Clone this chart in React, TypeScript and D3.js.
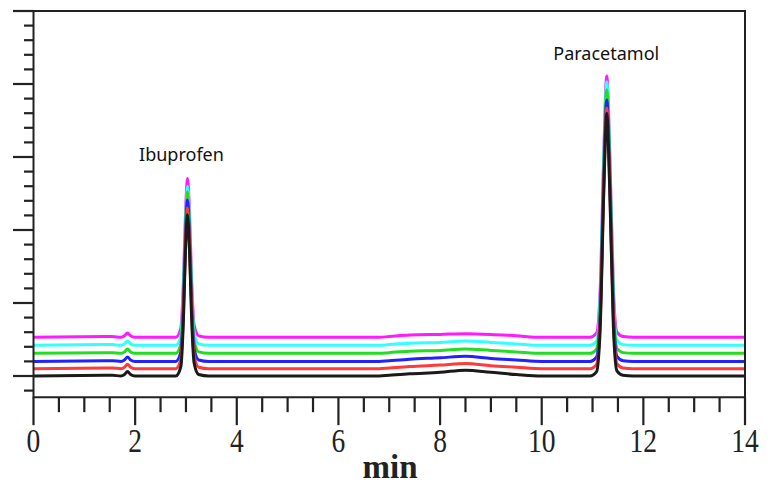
import React from "react";
import * as d3 from "d3";

const times = [0, 1.55, 1.72, 1.79, 1.85, 1.91, 2.0, 2.8, 2.9, 2.95, 2.99, 3.03, 3.07, 3.11, 3.16, 3.25, 3.45, 6.8, 7.0, 7.4, 8.0, 8.5, 9.0, 9.5, 10.0, 10.95, 11.08, 11.15, 11.22, 11.28, 11.34, 11.41, 11.48, 11.6, 11.8, 14];

const magenta = [0.53, 0.54, 0.53, 0.55, 0.59, 0.55, 0.53, 0.53, 0.66, 1.29, 2.2, 2.71, 2.23, 1.34, 0.7, 0.55, 0.53, 0.53, 0.54, 0.56, 0.57, 0.58, 0.57, 0.55, 0.53, 0.53, 0.59, 1.17, 3.01, 4.11, 3.04, 1.21, 0.6, 0.54, 0.53, 0.53];
const cyan = [0.42, 0.43, 0.42, 0.44, 0.48, 0.44, 0.42, 0.42, 0.55, 1.18, 2.09, 2.6, 2.12, 1.23, 0.59, 0.44, 0.42, 0.42, 0.43, 0.45, 0.46, 0.48, 0.46, 0.44, 0.42, 0.42, 0.48, 1.06, 2.92, 4.03, 2.95, 1.1, 0.49, 0.43, 0.42, 0.42];
const green = [0.31, 0.32, 0.31, 0.33, 0.37, 0.33, 0.31, 0.31, 0.44, 1.08, 2.01, 2.52, 2.03, 1.13, 0.49, 0.33, 0.31, 0.31, 0.32, 0.34, 0.35, 0.37, 0.35, 0.33, 0.31, 0.31, 0.37, 0.95, 2.81, 3.92, 2.84, 0.99, 0.38, 0.32, 0.31, 0.31];
const blue = [0.2, 0.21, 0.2, 0.22, 0.26, 0.22, 0.2, 0.2, 0.33, 0.97, 1.9, 2.41, 1.92, 1.02, 0.38, 0.22, 0.2, 0.2, 0.21, 0.23, 0.25, 0.27, 0.24, 0.22, 0.2, 0.2, 0.26, 0.84, 2.68, 3.78, 2.71, 0.88, 0.27, 0.21, 0.2, 0.2];
const red = [0.1, 0.11, 0.1, 0.12, 0.16, 0.12, 0.1, 0.1, 0.23, 0.86, 1.79, 2.3, 1.82, 0.91, 0.28, 0.12, 0.1, 0.1, 0.11, 0.13, 0.15, 0.17, 0.14, 0.12, 0.1, 0.1, 0.16, 0.74, 2.57, 3.67, 2.6, 0.78, 0.17, 0.11, 0.1, 0.1];
const black = [0, 0.01, 0, 0.02, 0.06, 0.02, 0, 0, 0.13, 0.77, 1.7, 2.21, 1.72, 0.82, 0.18, 0.02, 0, 0, 0.01, 0.03, 0.05, 0.08, 0.05, 0.02, 0, 0, 0.06, 0.64, 2.49, 3.6, 2.52, 0.68, 0.07, 0.01, 0, 0];

const seriesNames = ["magenta", "cyan", "green", "blue", "red", "black"];
const seriesValues = [magenta, cyan, green, blue, red, black];
const seriesColors = ["#ff1aff", "#33ffff", "#22dd22", "#2222ff", "#ff3a3a", "#1a1a1a"];

const xTickLabels = ["0", "2", "4", "6", "8", "10", "12", "14"];
const peakNames = ["Ibuprofen", "Paracetamol"];
const peakTimes = [3.03, 11.27];
const peakLabelValues = [2.95, 4.33];

const W = 771;
const H = 486;

export default function App() {
  const x = d3.scaleLinear().domain([0, 14]).range([33.5, 745]);
  const y = d3.scaleLinear().domain([0, 5]).range([376, 11]);
  const yBottom = y(-0.29);

  const line = d3
    .line<number>()
    .x((_, i) => x(times[i]))
    .y((v) => y(v))
    .curve(d3.curveMonotoneX);

  const xMajor = d3.range(0, 14.001, 2);
  const xMinor = d3.range(0, 14.001, 0.5).filter((t) => Math.abs(t / 2 - Math.round(t / 2)) > 1e-6);
  const yMajor = d3.range(0, 5.001, 1);
  const yMinor = d3.range(-0.2, 5.001, 0.2).filter((v) => Math.abs(v - Math.round(v)) > 1e-6);

  const axisColor = "#222";

  return (
    <svg
      width={W}
      height={H}
      style={{ position: "absolute", left: 0, top: 0, background: "#fff" }}
    >
      {seriesValues.map((vals, i) => (
        <path
          key={seriesNames[i]}
          d={line(vals) || ""}
          fill="none"
          stroke={seriesColors[i]}
          strokeWidth={3}
          strokeLinejoin="round"
        />
      ))}
      <path
        d={`M${x(0)},${y(5)}H${x(14)}V${yBottom}H${x(0)}Z`}
        fill="none"
        stroke={axisColor}
        strokeWidth={2}
      />
      {yMajor.map((v) => (
        <line key={"ym" + v} x1={13} x2={x(0)} y1={y(v)} y2={y(v)} stroke={axisColor} strokeWidth={2.2} />
      ))}
      {yMinor.map((v) => (
        <line key={"yn" + v.toFixed(2)} x1={24} x2={x(0)} y1={y(v)} y2={y(v)} stroke={axisColor} strokeWidth={2.2} />
      ))}
      {xMajor.map((t) => (
        <line key={"xm" + t} x1={x(t)} x2={x(t)} y1={yBottom} y2={yBottom + 28} stroke={axisColor} strokeWidth={2.2} />
      ))}
      {xMinor.map((t) => (
        <line key={"xn" + t} x1={x(t)} x2={x(t)} y1={yBottom} y2={yBottom + 15} stroke={axisColor} strokeWidth={2.2} />
      ))}
      {xMajor.map((t, i) => (
        <text
          key={"xl" + t}
          transform={`translate(${x(t)},452) scale(0.95,1.15)`}
          textAnchor="middle"
          fontFamily="'Liberation Serif', 'DejaVu Serif', serif"
          fontSize={29}
          fill="#222"
        >
          {xTickLabels[i]}
        </text>
      ))}
      <text
        x={390}
        y={478}
        textAnchor="middle"
        fontFamily="'Liberation Serif', serif"
        fontSize={33}
        fontWeight="bold"
        fill="#222"
      >
        min
      </text>
      {peakNames.map((n, i) => (
        <text
          key={n}
          x={x(peakTimes[i]) - (i === 0 ? 6 : 0)}
          y={y(peakLabelValues[i])}
          textAnchor="middle"
          fontFamily="'Noto Sans', sans-serif"
          fontSize={18}
          fill="#111"
        >
          {n}
        </text>
      ))}
    </svg>
  );
}
